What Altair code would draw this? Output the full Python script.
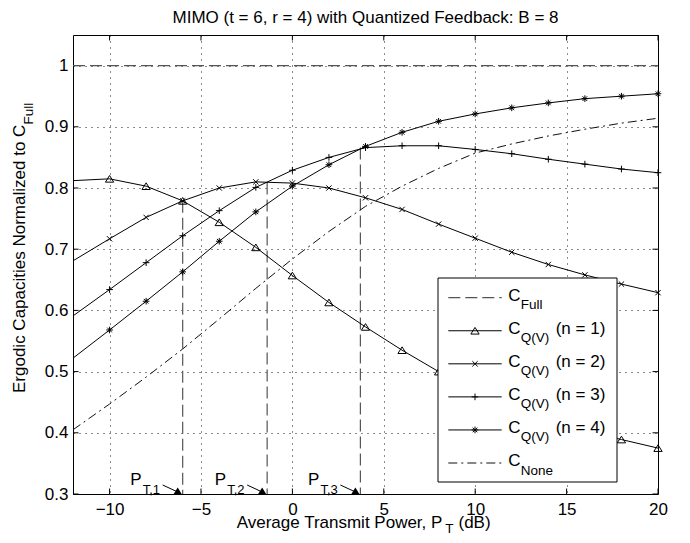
import altair as alt
import pandas as pd

# ---------------- data ----------------
x_db = [-12, -10, -8, -6, -4, -2, 0, 2, 4, 6, 8, 10, 12, 14, 16, 18, 20]
c_q1 = [0.812, 0.815, 0.803, 0.779, 0.744, 0.703, 0.657, 0.613, 0.573, 0.535,
        0.500, 0.470, 0.443, 0.421, 0.403, 0.389, 0.375]
c_q2 = [0.681, 0.717, 0.752, 0.779, 0.800, 0.810, 0.808, 0.800, 0.784, 0.765,
        0.741, 0.718, 0.695, 0.675, 0.658, 0.643, 0.629]
c_q3 = [0.591, 0.634, 0.678, 0.722, 0.763, 0.801, 0.829, 0.850, 0.866, 0.869,
        0.869, 0.863, 0.856, 0.847, 0.839, 0.831, 0.825]
c_q4 = [0.522, 0.568, 0.615, 0.663, 0.713, 0.761, 0.803, 0.838, 0.868, 0.891,
        0.909, 0.921, 0.931, 0.939, 0.946, 0.950, 0.954]
c_none = [0.405, 0.447, 0.491, 0.537, 0.586, 0.636, 0.684, 0.729, 0.770, 0.803,
          0.832, 0.857, 0.872, 0.885, 0.896, 0.906, 0.914]
full_x = [-12, 20]
full_y = [1.0, 1.0]
pt_x = [-6.0, -1.38, 3.72]
pt_top = [0.779, 0.809, 0.866]
pt_sub = ["T,1", "T,2", "T,3"]
x_ticks = [-10, -5, 0, 5, 10, 15, 20]
y_ticks = [0.3, 0.4, 0.5, 0.6, 0.7, 0.8, 0.9, 1.0]
legend_sub = ["Full", "Q(V)", "Q(V)", "Q(V)", "Q(V)", "None"]
legend_tail = ["", "(n = 1)", "(n = 2)", "(n = 3)", "(n = 4)", ""]
title_text = "MIMO (t = 6, r = 4) with Quantized Feedback: B = 8"
x_title = ["Average Transmit Power, P", "T", "(dB)"]
y_title = ["Ergodic Capacities Normalized to C", "Full"]

# ---------------- styling ----------------
FONT = "Liberation Sans"
W, H = 585, 459
TRI = "M0,-0.8L1,0.8L-1,0.8Z"
XS = "M-1,-1L1,1M-1,1L1,-1"
PLUS = "M-1,0L1,0M0,-1L0,1"
STAR = "M-1,0L1,0M0,-1L0,1M-0.7,-0.7L0.7,0.7M-0.7,0.7L0.7,-0.7"
DASH = [12, 5]
DASHDOT = [9, 4, 2, 4]
GRAY = "#555555"

xs = alt.Scale(domain=[-12, 20], nice=False, zero=False)
ys = alt.Scale(domain=[0.3, 1.05], nice=False, zero=False)
xaxis = alt.Axis(values=x_ticks, format="~g", title=None, grid=True, domain=False,
                 ticks=False, labelFont=FONT, labelFontSize=17, labelColor="black",
                 labelPadding=7, labelFlush=False, labelOverlap=False,
                 gridColor="black", gridDash=[1, 5], gridWidth=1, gridOpacity=0.9)
yaxis = alt.Axis(values=y_ticks, format="~g", title=None, grid=True, domain=False,
                 ticks=False, labelFont=FONT, labelFontSize=17, labelColor="black",
                 labelPadding=5, labelFlush=False, labelOverlap=False,
                 gridColor="black", gridDash=[1, 5], gridWidth=1, gridOpacity=0.9)


def X(f):
    return alt.X(f"{f}:Q", scale=xs, axis=xaxis)


def Y(f):
    return alt.Y(f"{f}:Q", scale=ys, axis=yaxis)


series = pd.DataFrame({"x": x_db, "q1": c_q1, "q2": c_q2, "q3": c_q3,
                       "q4": c_q4, "none": c_none})
full = pd.DataFrame({"x": full_x, "y": full_y})
pts = pd.DataFrame({"x": pt_x, "top": pt_top, "sub": pt_sub})
xt = pd.DataFrame({"v": x_ticks})
yt = pd.DataFrame({"v": y_ticks})
one = pd.DataFrame({"k": [0]})

layers = []

# inward tick marks on all four sides
layers.append(alt.Chart(xt).mark_rule(color="black", strokeWidth=1).encode(
    x=X("v"), y=alt.value(H), y2=alt.value(H - 5.5)))
layers.append(alt.Chart(xt).mark_rule(color="black", strokeWidth=1).encode(
    x=X("v"), y=alt.value(0), y2=alt.value(5.5)))
layers.append(alt.Chart(yt).mark_rule(color="black", strokeWidth=1).encode(
    y=Y("v"), x=alt.value(0), x2=alt.value(5.5)))
layers.append(alt.Chart(yt).mark_rule(color="black", strokeWidth=1).encode(
    y=Y("v"), x=alt.value(W), x2=alt.value(W - 5.5)))

# C_Full reference line
layers.append(alt.Chart(full).mark_line(color=GRAY, strokeWidth=1.2, strokeDash=DASH).encode(
    x=X("x"), y=Y("y")))

# P_T vertical dashed lines
layers.append(alt.Chart(pts).mark_rule(color=GRAY, strokeWidth=1.2, strokeDash=DASH).encode(
    x=X("x"), y=Y("top"), y2=alt.value(H)))

# curves
layers.append(alt.Chart(series).mark_line(color="#111111", strokeWidth=1, strokeDash=DASHDOT).encode(
    x=X("x"), y=Y("none")))
for fld, shp, sz in [("q1", TRI, 69), ("q2", XS, 28), ("q3", PLUS, 44), ("q4", STAR, 44)]:
    layers.append(alt.Chart(series).mark_line(color="black", strokeWidth=1).encode(
        x=X("x"), y=Y(fld)))
    layers.append(alt.Chart(series).transform_filter("datum.x >= -10").mark_point(
        shape=shp, size=sz, filled=False, color="black", strokeWidth=1, opacity=1).encode(
        x=X("x"), y=Y(fld)))

# P_T annotations (arrowheads, arrows, labels)
layers.append(alt.Chart(pts).mark_point(shape=TRI, size=64, filled=True, color="black",
                                        opacity=1, xOffset=-5, yOffset=-3.2).encode(
    x=X("x"), y=alt.value(H)))
layers.append(alt.Chart(pts).mark_rule(color="black", strokeWidth=1, xOffset=-20, x2Offset=-6,
                                       yOffset=-9, y2Offset=-2.5).encode(
    x=X("x"), x2="x:Q", y=alt.value(H), y2=alt.value(H)))
layers.append(alt.Chart(pts).mark_text(align="right", baseline="alphabetic", dx=-41, dy=-9,
                                       font=FONT, fontSize=17, color="black").encode(
    x=X("x"), y=alt.value(H), text=alt.value("P")))
layers.append(alt.Chart(pts).mark_text(align="left", baseline="alphabetic", dx=-40, dy=-0.5,
                                       font=FONT, fontSize=13, color="black").encode(
    x=X("x"), y=alt.value(H), text="sub:N"))

# ---------------- legend ----------------
leg = pd.DataFrame({"i": list(range(6)), "sub": legend_sub, "tail": legend_tail})
legbase = alt.Chart(leg).transform_calculate(
    ly="262.7 + 33.06 * datum.i", lyc="265.7 + 33.06 * datum.i", lys="274.2 + 33.06 * datum.i")
LY = alt.Y("ly:Q", scale=None, axis=None)

layers.append(alt.Chart(one).mark_rect(fill="white", stroke="black", strokeWidth=1).encode(
    x=alt.value(365), x2=alt.value(544), y=alt.value(243), y2=alt.value(447)))
layers.append(legbase.transform_filter("datum.i == 0").mark_rule(
    color=GRAY, strokeWidth=1.2, strokeDash=DASH).encode(
    x=alt.value(375.3), x2=alt.value(428.7), y=LY))
layers.append(legbase.transform_filter("datum.i >= 1 && datum.i <= 4").mark_rule(
    color="black", strokeWidth=1).encode(x=alt.value(375.3), x2=alt.value(428.7), y=LY))
layers.append(legbase.transform_filter("datum.i == 5").mark_rule(
    color="#111111", strokeWidth=1, strokeDash=DASHDOT).encode(
    x=alt.value(375.3), x2=alt.value(428.7), y=LY))
for idx, shp, sz in [(1, TRI, 69), (2, XS, 28), (3, PLUS, 44), (4, STAR, 44)]:
    layers.append(legbase.transform_filter(f"datum.i == {idx}").mark_point(
        shape=shp, size=sz, filled=False, color="black", strokeWidth=1, opacity=1).encode(
        x=alt.value(402), y=LY))
layers.append(legbase.mark_text(align="left", baseline="alphabetic", font=FONT, fontSize=17,
                                color="black").encode(
    x=alt.value(435.3), y=alt.Y("lyc:Q", scale=None, axis=None), text=alt.value("C")))
layers.append(legbase.mark_text(align="left", baseline="alphabetic", font=FONT, fontSize=13.5,
                                color="black").encode(
    x=alt.value(447.7), y=alt.Y("lys:Q", scale=None, axis=None), text="sub:N"))
layers.append(legbase.mark_text(align="left", baseline="alphabetic", font=FONT, fontSize=17,
                                color="black").encode(
    x=alt.value(482.7), y=alt.Y("lyc:Q", scale=None, axis=None), text="tail:N"))

# ---------------- titles ----------------
layers.append(alt.Chart(one).mark_text(align="center", baseline="alphabetic", font=FONT,
                                       fontSize=17, color="black").encode(
    x=alt.value(W / 2), y=alt.value(-12.5), text=alt.value(title_text)))
layers.append(alt.Chart(one).mark_text(align="left", baseline="alphabetic", font=FONT,
                                       fontSize=17, color="black").encode(
    x=alt.value(163.7), y=alt.value(492.5), text=alt.value(x_title[0])))
layers.append(alt.Chart(one).mark_text(align="left", baseline="alphabetic", font=FONT,
                                       fontSize=13.5, color="black").encode(
    x=alt.value(372.2), y=alt.value(497.5), text=alt.value(x_title[1])))
layers.append(alt.Chart(one).mark_text(align="left", baseline="alphabetic", font=FONT,
                                       fontSize=17, color="black").encode(
    x=alt.value(385.5), y=alt.value(492.5), text=alt.value(x_title[2])))
layers.append(alt.Chart(one).mark_text(align="left", baseline="alphabetic", angle=270, font=FONT,
                                       fontSize=17, color="black").encode(
    x=alt.value(-48), y=alt.value(358), text=alt.value(y_title[0])))
layers.append(alt.Chart(one).mark_text(align="left", baseline="alphabetic", angle=270, font=FONT,
                                       fontSize=13.5, color="black").encode(
    x=alt.value(-40), y=alt.value(89.5), text=alt.value(y_title[1])))

chart = alt.layer(*layers).properties(
    width=W, height=H,
    padding={"left": 65, "top": 27, "right": 20, "bottom": 41},
    autosize=alt.AutoSizeParams(type="none"),
    background="white",
).configure_view(stroke="black", strokeWidth=1)

chart.save("out.html", embed_options={"renderer": "svg", "actions": False})
